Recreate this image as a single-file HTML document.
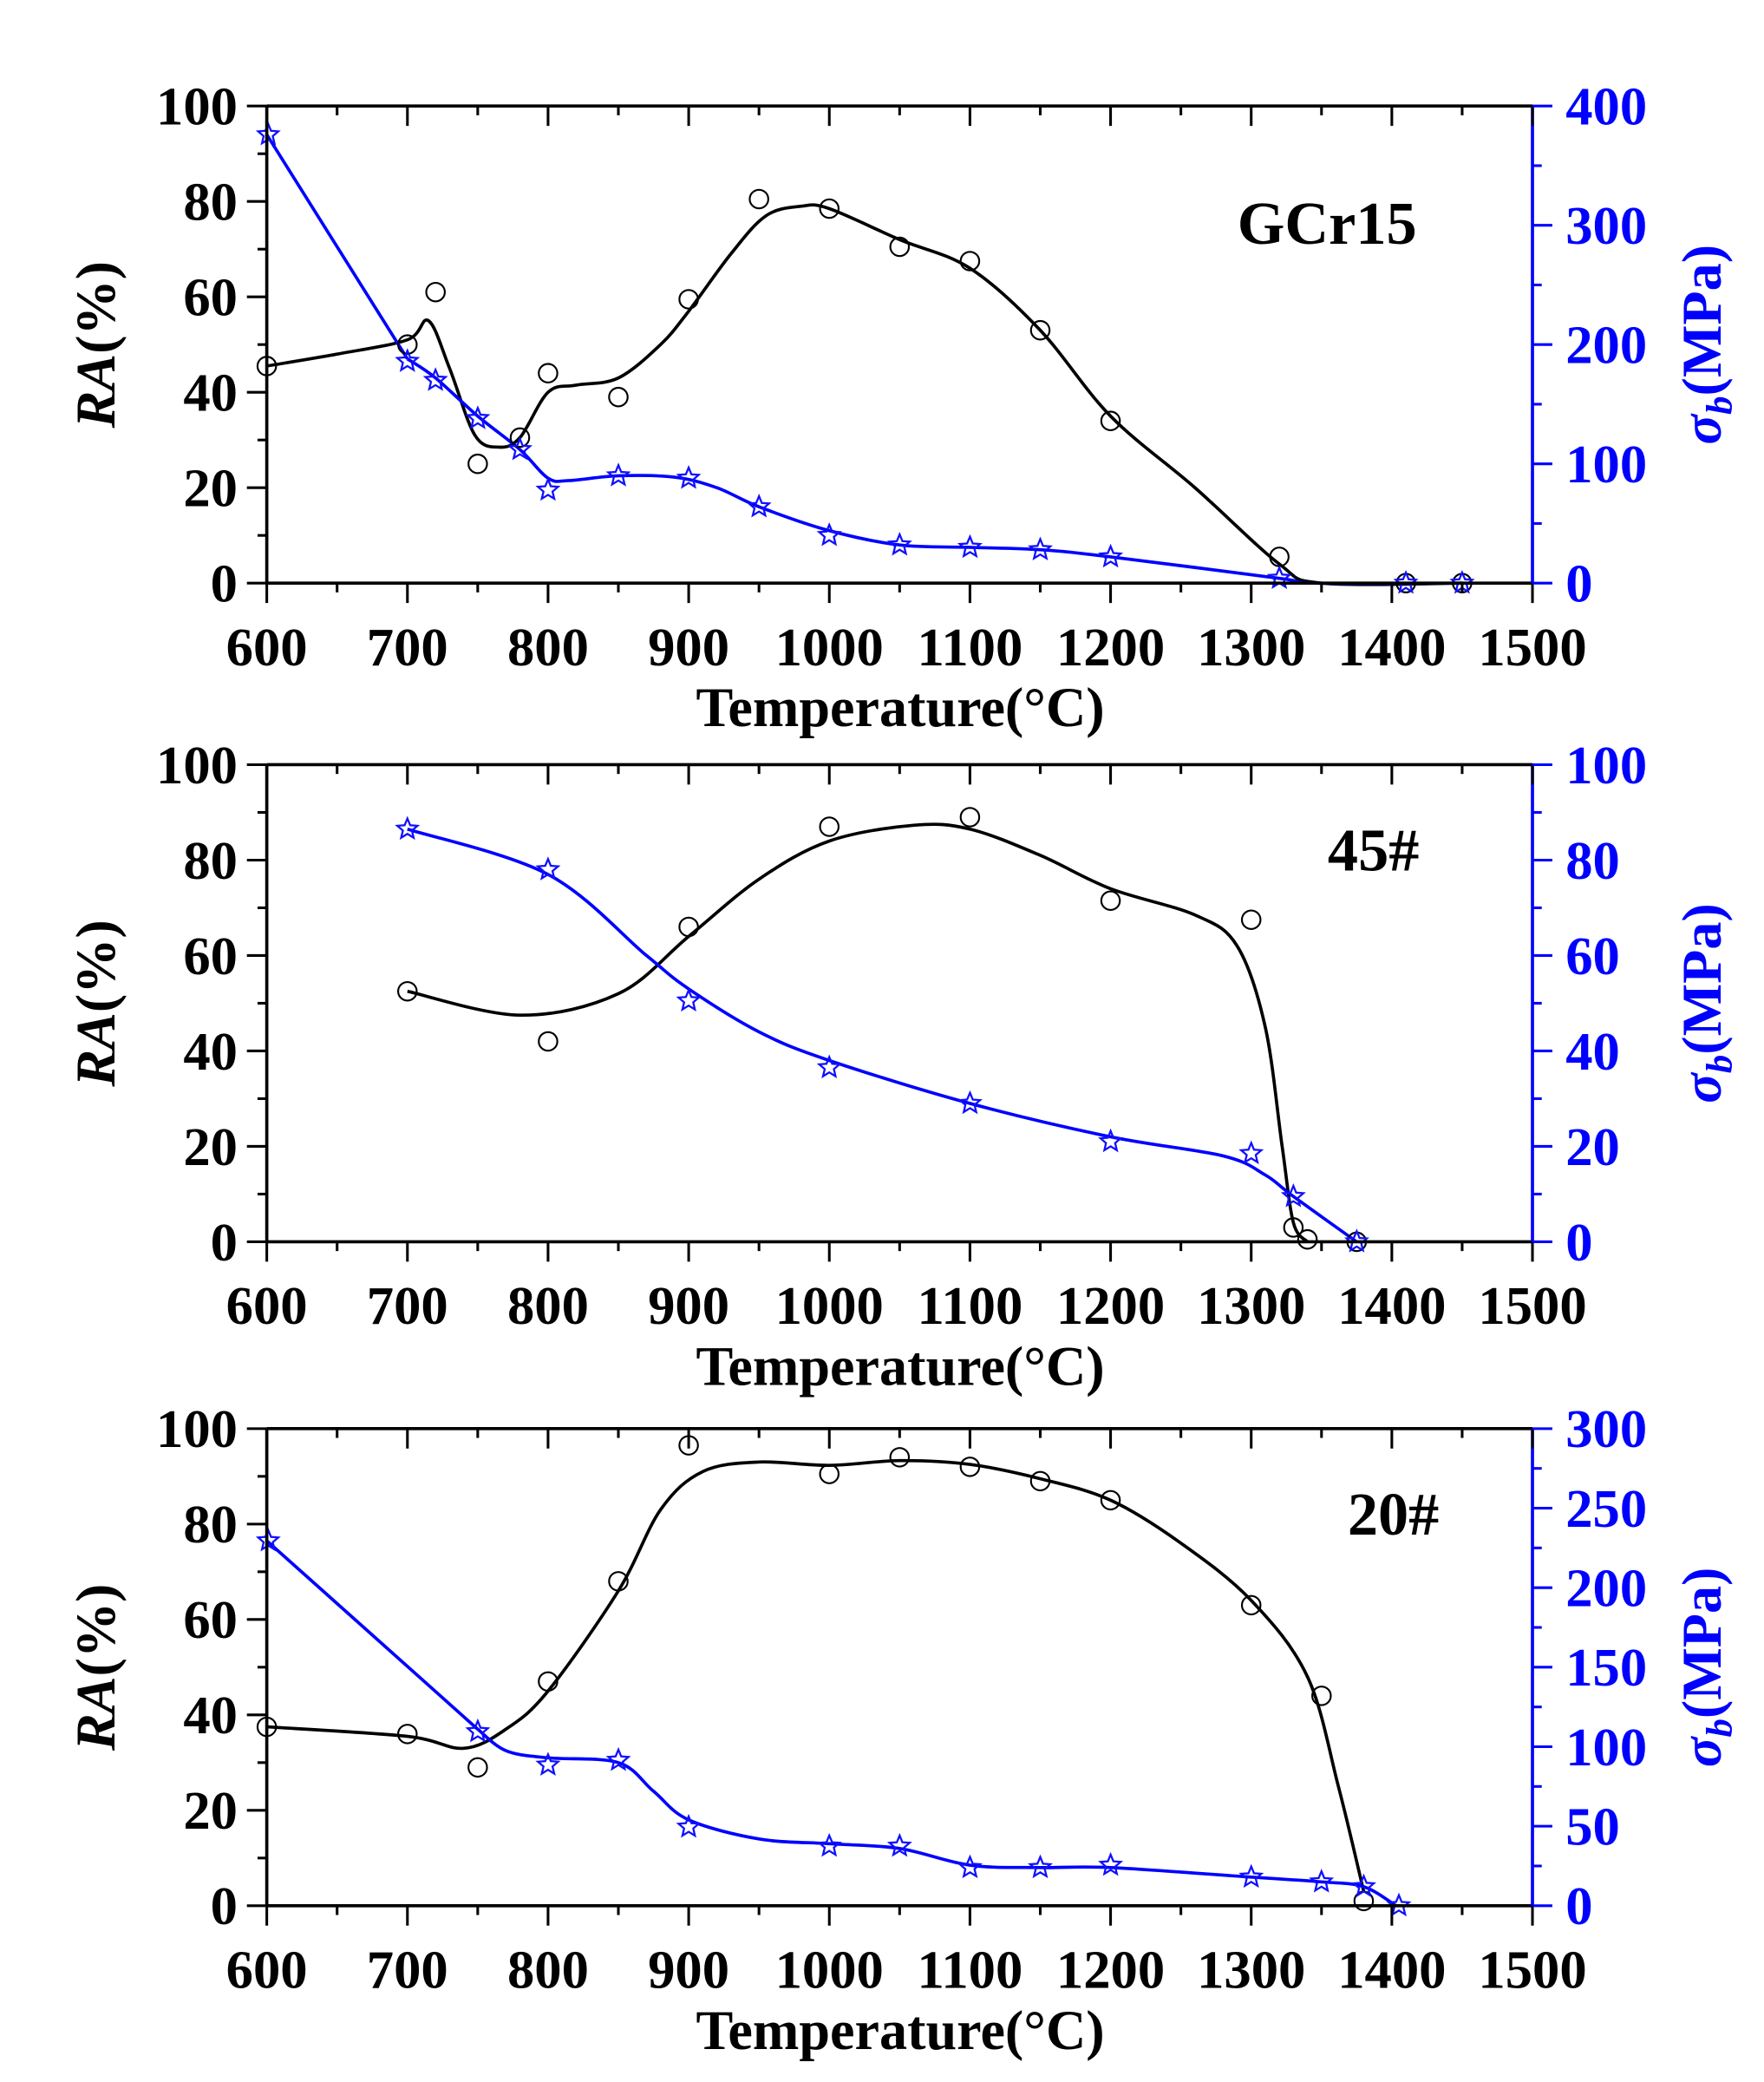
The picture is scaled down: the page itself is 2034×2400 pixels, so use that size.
<!DOCTYPE html>
<html><head><meta charset="utf-8">
<style>
html,body{margin:0;padding:0;background:#fff;}
svg{display:block;}
text{font-family:"Liberation Serif",serif;font-weight:bold;}
</style></head>
<body>
<svg id="s" xmlns="http://www.w3.org/2000/svg" width="2034" height="2400" viewBox="-1.3 -2 1331 1571" preserveAspectRatio="none"></svg>
<script>
const S=document.getElementById('s');
let out='';
const X0=200,X1=1155;
const tx=t=>X0+(t-600)*(X1-X0)/900;
function cr(pts){
  let d=`M${pts[0][0]},${pts[0][1]}`;
  for(let i=0;i<pts.length-1;i++){
    const p0=pts[i-1]||pts[i],p1=pts[i],p2=pts[i+1],p3=pts[i+2]||pts[i+1];
    const c1=[p1[0]+(p2[0]-p0[0])/6,p1[1]+(p2[1]-p0[1])/6];
    const c2=[p2[0]-(p3[0]-p1[0])/6,p2[1]-(p3[1]-p1[1])/6];
    d+=` C${c1[0]},${c1[1]} ${c2[0]},${c2[1]} ${p2[0]},${p2[1]}`;
  }
  return d;
}
function star(x,y,r){
  let p=[];
  for(let i=0;i<10;i++){const a=-Math.PI/2+i*Math.PI/5;const rr=i%2?r*0.45:r;p.push((x+rr*Math.cos(a)).toFixed(1)+','+(y+rr*Math.sin(a)).toFixed(1));}
  return `<polygon points="${p.join(' ')}" fill="none" stroke="#1010ff" stroke-width="1.5"/>`;
}
function plot(top,cfg){
  const bot=top+360;
  const ty=v=>bot-v*3.6;
  const bl=cfg.black.map(p=>[tx(p[0]),ty(p[1])]);
  out+=`<path d="${cr(bl)}" fill="none" stroke="#000" stroke-width="2.4"/>`;
  let bd='';
  if(cfg.blueStraight){
    const a=cfg.blueStraight;
    bd+=`<line x1="${tx(a[0][0])}" y1="${ty(a[0][1])}" x2="${tx(a[1][0])}" y2="${ty(a[1][1])}" stroke="#0000ff" stroke-width="2.4"/>`;
  }
  const bu=cfg.blue.map(p=>[tx(p[0]),ty(p[1])]);
  out+=bd+`<path d="${cr(bu)}" fill="none" stroke="#0000ff" stroke-width="2.4"/>`;
  cfg.circ.forEach(p=>{out+=`<ellipse cx="${tx(p[0])}" cy="${ty(p[1])}" rx="7" ry="7" fill="none" stroke="#000" stroke-width="1.4"/>`;});
  cfg.stars.forEach(p=>{out+=star(tx(p[0]),ty(p[1]),8);});
  out+=`<line x1="${X0}" y1="${top}" x2="${X1}" y2="${top}" stroke="#000" stroke-width="2.4"/>`;
  out+=`<line x1="${X0}" y1="${bot}" x2="${X1}" y2="${bot}" stroke="#000" stroke-width="2.4"/>`;
  out+=`<line x1="${X0}" y1="${top}" x2="${X0}" y2="${bot}" stroke="#000" stroke-width="2.4"/>`;
  out+=`<line x1="${X1}" y1="${top}" x2="${X1}" y2="${bot}" stroke="#0000ff" stroke-width="2.4"/>`;
  for(let t=600;t<=1500;t+=50){
    const x=tx(t),maj=t%100==0;
    out+=`<line x1="${x}" y1="${bot}" x2="${x}" y2="${bot+(maj?15:7)}" stroke="#000" stroke-width="2"/>`;
    out+=`<line x1="${x}" y1="${top}" x2="${x}" y2="${top+(maj?15:7)}" stroke="#000" stroke-width="2"/>`;
    if(maj) out+=`<text x="${x}" y="${bot+62}" font-size="41" text-anchor="middle">${t}</text>`;
  }
  for(let v=0;v<=100;v+=10){
    const y=ty(v),maj=v%20==0;
    out+=`<line x1="${X0-(maj?15:7)}" y1="${y}" x2="${X0}" y2="${y}" stroke="#000" stroke-width="2"/>`;
    if(maj) out+=`<text x="${X0-22}" y="${y+14}" font-size="41" text-anchor="end">${v}</text>`;
  }
  const R=cfg.rmax, st=cfg.rstep;
  for(let v=0;v<=R+0.01;v+=st/2){
    const y=ty(v/R*100),maj=Math.abs(v/st-Math.round(v/st))<1e-6;
    out+=`<line x1="${X1}" y1="${y}" x2="${X1+(maj?15:7)}" y2="${y}" stroke="#0000ff" stroke-width="2"/>`;
    if(maj) out+=`<text x="${X1+25}" y="${y+14}" font-size="41" fill="#0000ff">${Math.round(v)}</text>`;
  }
  out+=`<text x="678" y="${bot+108}" font-size="42" text-anchor="middle">Temperature(°C)</text>`;
  const cy=top+180;
  out+=`<text transform="translate(85,${cy}) rotate(-90)" font-size="42" text-anchor="middle"><tspan font-style="italic">RA</tspan>(%)</text>`;
  out+=`<text transform="translate(1297,${cy}) rotate(-90)" font-size="42" text-anchor="middle" fill="#0000ff"><tspan font-style="italic">σ</tspan><tspan font-style="italic" font-size="28" dy="8">b</tspan><tspan dy="-8">(MPa)</tspan></text>`;
  out+=`<text x="${cfg.lx}" y="${top+cfg.ly}" font-size="46" text-anchor="middle">${cfg.label}</text>`;
}
plot(78,{rmax:400,rstep:100,label:'GCr15',lx:1000,ly:104,
 black:[[600,45.5],[650,48],[700,51],[715,55],[730,45],[748,31],[765,28.5],[780,30.5],[800,40],[820,41.5],[850,43],[880,50],[900,57],[930,69],[955,77],[980,79],[1000,78.5],[1050,72],[1100,66],[1150,53],[1200,35],[1260,20],[1320,4],[1350,0],[1450,0]],
 blueStraight:[[600,94],[700,47]],
 blue:[[700,47],[720,43],[750,35],[780,28],[800,22],[815,21.5],[850,22.5],[890,22.2],[920,20],[950,16],[1000,11],[1050,8],[1100,7.5],[1150,7],[1200,5.5],[1320,1],[1345,0],[1450,0]],
 circ:[[600,45.5],[700,50],[720,61],[750,25],[780,30.5],[800,44],[850,39],[900,59.5],[950,80.5],[1000,78.5],[1050,70.5],[1100,67.5],[1150,53],[1200,34],[1320,5.5],[1410,0],[1450,0]],
 stars:[[601,94],[700,46.5],[720,42.5],[750,34.5],[780,28],[800,19.5],[850,22.5],[900,22],[950,16],[1000,10],[1050,8],[1100,7.5],[1150,7],[1200,5.5],[1320,1],[1410,0],[1450,0]]});
plot(575,{rmax:100,rstep:20,label:'45#',lx:1035,ly:80,
 black:[[700,52.5],[780,47.5],[850,52],[900,64],[950,76],[1000,84],[1060,87.3],[1100,86.5],[1150,81],[1200,74],[1260,68.5],[1290,62],[1310,45],[1322,20],[1330,4],[1340,0]],
 blue:[[700,86.5],[800,77],[870,60],[900,53],[950,44],[1000,38],[1100,29],[1200,22],[1280,18],[1310,14],[1330,9.5],[1375,0]],
 circ:[[700,52.5],[800,42],[900,66],[1000,87],[1100,89],[1200,71.5],[1300,67.5],[1330,3],[1340,0.5],[1375,0]],
 stars:[[700,86.5],[800,78],[900,50.5],[1000,36.5],[1100,29],[1200,21],[1300,18.5],[1330,9.5],[1375,0]]});
plot(1076,{rmax:300,rstep:50,label:'20#',lx:1050,ly:80,
 black:[[600,37.5],[700,35.5],[740,33],[770,37],[800,45],[850,66],[880,83],[910,91],[950,93],[1000,92.3],[1050,93.3],[1100,92.5],[1150,89.5],[1200,85],[1250,76],[1300,64],[1340,48],[1362,25],[1380,3]],
 blueStraight:[[600,76.5],[750,37]],
 blue:[[750,37],[770,32.5],[800,31],[850,30],[875,24],[900,18],[950,14],[1000,13],[1050,12],[1100,8.5],[1150,8],[1200,8],[1300,6],[1350,5],[1380,4],[1403,0]],
 circ:[[600,37.5],[700,36],[750,29],[800,47],[850,68],[900,96.5],[1000,90.5],[1050,94],[1100,92],[1150,89],[1200,85],[1300,63],[1350,44],[1380,1]],
 stars:[[601,76.5],[750,36.5],[800,29.5],[850,30.5],[900,16.5],[1000,12.5],[1050,12.5],[1100,8],[1150,8],[1200,8.5],[1300,6],[1350,5],[1380,4],[1405,0]]});
S.innerHTML=out;
</script>
</body></html>
